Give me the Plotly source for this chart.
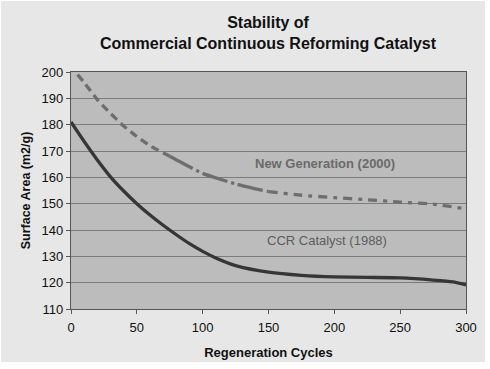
import plotly.graph_objects as go

# ---- data ----
cycles_ccr = [0, 10, 20, 30, 40, 50, 60, 70, 80, 90, 100, 110, 125, 150, 175, 200, 225, 250, 275, 290, 300]
area_ccr = [181, 173.6, 166.6, 160.2, 154.8, 150.0, 145.7, 141.8, 138.2, 134.8, 131.9, 129.4, 126.5, 124, 122.8, 122.2, 122, 121.8, 121, 120.3, 119.2]

cycles_new = [5, 10, 20, 30, 40, 50, 60, 75, 90, 100, 110, 125, 140, 150, 175, 200, 225, 250, 275, 300]
area_new = [199, 196, 189.5, 184.3, 179.5, 175.5, 172, 168, 164, 161.5, 159.8, 157.5, 155.6, 154.6, 153.2, 152.3, 151.5, 150.6, 149.8, 148]

x_ticks = [0, 50, 100, 150, 200, 250, 300]
y_ticks = [110, 120, 130, 140, 150, 160, 170, 180, 190, 200]

title_lines = ["Stability of", "Commercial Continuous Reforming Catalyst"]
x_title = "Regeneration Cycles"
y_title = "Surface Area (m2/g)"
label_new = "New Generation (2000)"
label_ccr = "CCR Catalyst (1988)"

FONT = "Liberation Sans, Arial, sans-serif"

fig = go.Figure()

# New generation curve, drawn in three styled pieces
i75 = cycles_new.index(75)
i150 = cycles_new.index(150)
pieces = [
    (0, i75 + 1, "8px,5px"),
    (i75, i150 + 1, "26px,4px,3px,4px"),
    (i150, len(cycles_new), "9px,6px,4px,6px"),
]
for a, b, dash in pieces:
    fig.add_trace(go.Scatter(
        x=cycles_new[a:b], y=area_new[a:b], mode="lines",
        line=dict(color="#6e6e6e", width=3.3, dash=dash, shape="spline", smoothing=0.6),
        showlegend=False, hoverinfo="skip"))

fig.add_trace(go.Scatter(
    x=cycles_ccr, y=area_ccr, mode="lines",
    line=dict(color="#363636", width=3.3, shape="spline", smoothing=0.6),
    showlegend=False, hoverinfo="skip"))

W, H = 490, 369
L, R, T, B = 71, 24, 72, 60
pw, ph = W - L - R, H - T - B

def px_to_paper_x(px):
    return (px - L) / pw

def px_to_paper_y(py):
    return (H - B - py) / ph

shapes = [
    # outer chart frame
    dict(type="rect", xref="paper", yref="paper", layer="below",
         x0=px_to_paper_x(1), x1=px_to_paper_x(485), y0=px_to_paper_y(362), y1=px_to_paper_y(1),
         fillcolor="#e7e7e7", line=dict(width=0)),
    # plot area
    dict(type="rect", xref="paper", yref="paper", layer="below",
         x0=0, x1=1, y0=0, y1=1, fillcolor="#bcbcbc", line=dict(width=0)),
]

annotations = [
    dict(text="<b>" + "<br>".join(title_lines) + "</b>", xref="paper", yref="paper",
         x=0.5, y=px_to_paper_y(33), xanchor="center", yanchor="middle", showarrow=False,
         font=dict(family=FONT, size=16, color="#111111")),
    dict(text="<b>" + label_new + "</b>", x=193, y=165.4, xref="x", yref="y",
         showarrow=False, font=dict(family=FONT, size=13, color="#6a6a6a")),
    dict(text=label_ccr, x=194.5, y=136.2, xref="x", yref="y",
         showarrow=False, font=dict(family=FONT, size=13, color="#5c5c5c")),
]

fig.update_layout(
    width=W, height=H,
    margin=dict(l=L, r=R, t=T, b=B, pad=0),
    paper_bgcolor="#ffffff", plot_bgcolor="rgba(0,0,0,0)",
    shapes=shapes, annotations=annotations,
    font=dict(family=FONT, size=13, color="#111111"),
    xaxis=dict(range=[0, 300], tickvals=x_ticks, ticks="outside", ticklen=4, tickcolor="#555555",
               showgrid=False, zeroline=False, showline=True, linecolor="#555555", linewidth=1.2,
               mirror=True, tickfont=dict(size=13, color="#111111"), ticklabelstandoff=2,
               title=dict(text="<b>" + x_title + "</b>", font=dict(size=13, color="#111111"), standoff=14)),
    yaxis=dict(range=[110, 200], tickvals=y_ticks, ticks="outside", ticklen=4, tickcolor="#555555",
               showgrid=True, gridcolor="#7c7c7c", gridwidth=1, zeroline=False, showline=True,
               linecolor="#555555", linewidth=1.2, mirror=True,
               tickfont=dict(size=13, color="#111111"),
               title=dict(text="<b>" + y_title + "</b>", font=dict(size=12.5, color="#111111"), standoff=8)),
)

fig.write_html("out.html", config={"displayModeBar": False},
               post_script="document.body.style.margin='0px';")
